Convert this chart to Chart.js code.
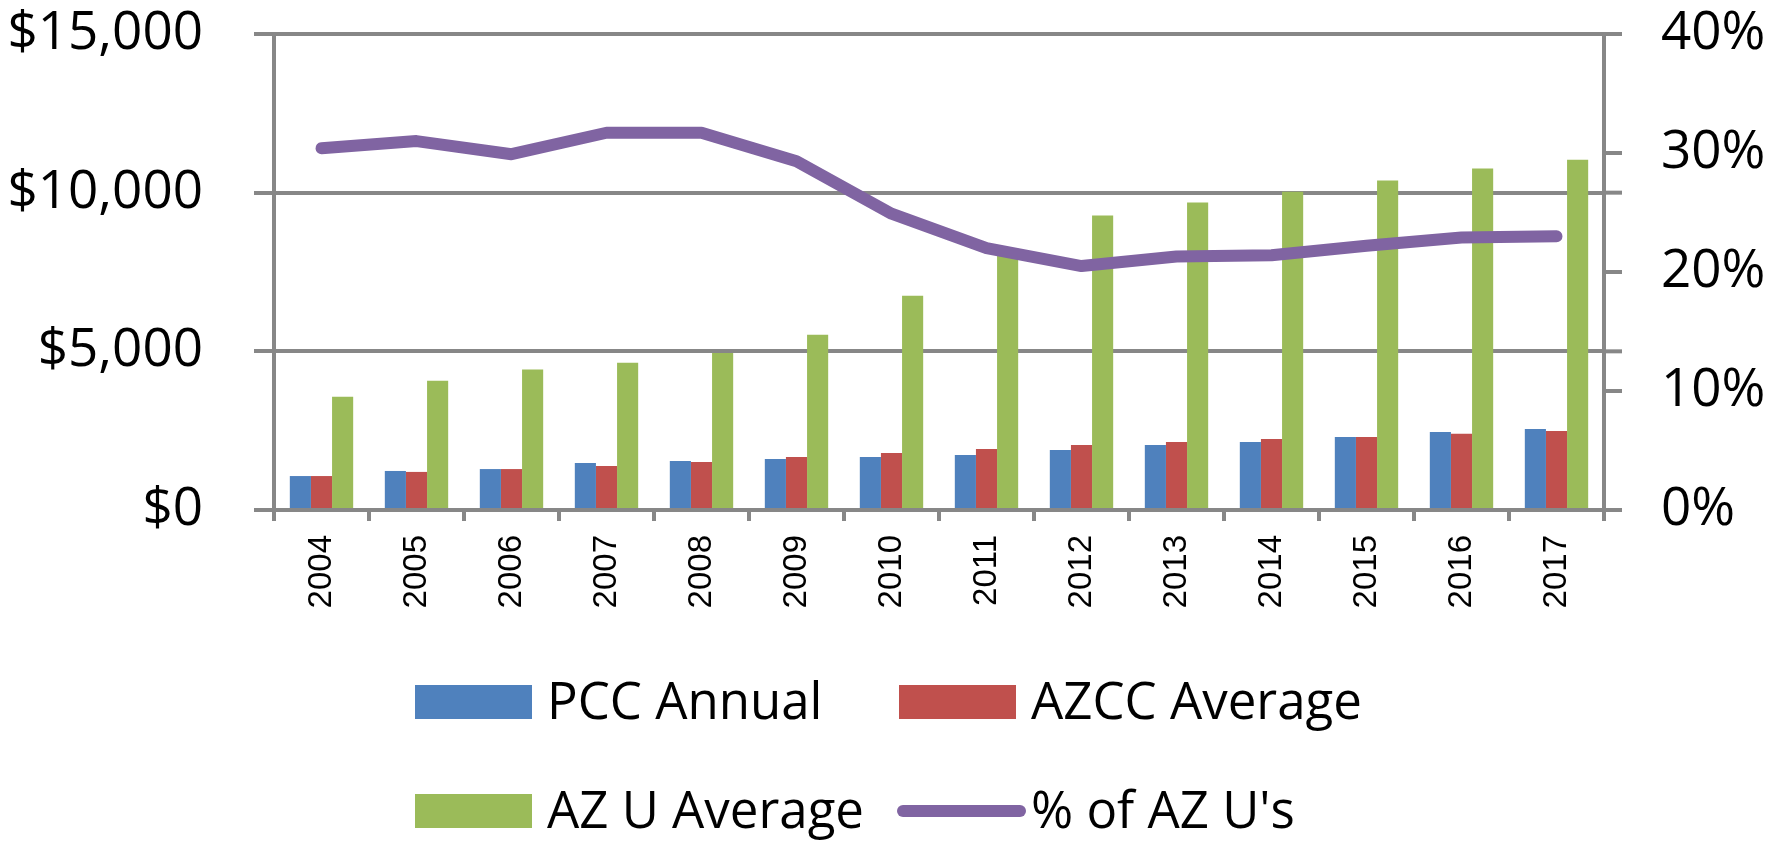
<!DOCTYPE html>
<html>
<head>
<meta charset="utf-8">
<script src="https://cdn.jsdelivr.net/npm/chart.js@4"></script>
<style>
  html, body { margin: 0; padding: 0; background: #fff; }
  #box { width: 1767px; height: 844px; }
</style>
</head>
<body>
<div id="box"><canvas id="myChart"></canvas></div>
<script>
const years = ["2004", "2005", "2006", "2007", "2008", "2009", "2010",
  "2011", "2012", "2013", "2014", "2015", "2016", "2017"];
const pccAnnual = [1070, 1230, 1290, 1480, 1545, 1610, 1670, 1735, 1890, 2050, 2145, 2300, 2460, 2555];
const azccAverage = [1070, 1200, 1290, 1390, 1515, 1670, 1800, 1925, 2050, 2145, 2240, 2300, 2400, 2490];
const azuAverage = [3570, 4070, 4430, 4640, 4950, 5520, 6750, 8250, 9280, 9690, 10030, 10380, 10760, 11040];
const pctOfAzu = [30.4, 31.0, 29.9, 31.7, 31.7, 29.3, 24.9, 22.0, 20.5, 21.3, 21.4, 22.2, 22.9, 23.0];

const dollarTicks = [0, 5000, 10000, 15000];
const pctTicks = [0, 10, 20, 30, 40];

const gridColor = "#878787";
const labelFont = "Open Sans";

// legend in two columns like the original, drawn under the axis
const legendPlugin = {
  id: "twoColLegend",
  afterDraw(chart) {
    const ctx = chart.ctx;
    const cols = [415, 899];
    const rows = [702, 811];
    ctx.save();
    ctx.font = `51px "${labelFont}"`;
    ctx.textBaseline = "alphabetic";
    chart.data.datasets.forEach((ds, i) => {
      const x = cols[i % 2];
      const y = rows[Math.floor(i / 2)];
      if (ds.type === "line") {
        ctx.strokeStyle = ds.borderColor;
        ctx.lineWidth = 12;
        ctx.lineCap = "round";
        ctx.beginPath();
        ctx.moveTo(x + 4, y);
        ctx.lineTo(x + 121, y);
        ctx.stroke();
      } else {
        ctx.fillStyle = ds.backgroundColor;
        ctx.fillRect(x, y - 17, 117, 34);
      }
      ctx.fillStyle = "#000";
      ctx.fillText(ds.label, x + 132, y + 17);
    });
    ctx.restore();
  },
};

// the primary gridlines run a little past the right axis
const gridStubs = {
  id: "gridStubs",
  beforeDatasetsDraw(chart) {
    const ctx = chart.ctx;
    const y = chart.scales.y;
    const right = chart.chartArea.right;
    ctx.save();
    ctx.strokeStyle = gridColor;
    ctx.lineWidth = 4;
    y.ticks.forEach((t) => {
      const py = y.getPixelForValue(t.value);
      ctx.beginPath();
      ctx.moveTo(right, py);
      ctx.lineTo(right + 18, py);
      ctx.stroke();
    });
    ctx.restore();
  },
};

function fixVertical(width) {
  return (scale) => {
    scale.width = width;
    scale.paddingTop = 0;
    scale.paddingBottom = 0;
  };
}

const data = {
  labels: years,
  datasets: [
    { label: "PCC Annual", data: pccAnnual, backgroundColor: "#4F81BD", order: 1, yAxisID: "y" },
    { label: "AZCC Average", data: azccAverage, backgroundColor: "#C0504D", order: 1, yAxisID: "y" },
    { label: "AZ U Average", data: azuAverage, backgroundColor: "#9BBB59", order: 1, yAxisID: "y" },
    {
      type: "line",
      label: "% of AZ U's",
      data: pctOfAzu,
      borderColor: "#8064A2",
      backgroundColor: "#8064A2",
      borderWidth: 12,
      borderCapStyle: "round",
      borderJoinStyle: "round",
      pointRadius: 0,
      tension: 0,
      order: 0,
      yAxisID: "y1",
    },
  ],
};

const config = {
  type: "bar",
  data,
  options: {
    responsive: true,
    maintainAspectRatio: false,
    animation: false,
    layout: { padding: { top: 34, left: 0, right: 0, bottom: 0 } },
    datasets: {
      bar: { categoryPercentage: 0.667, barPercentage: 1.0 },
    },
    plugins: {
      legend: { display: false },
      tooltip: { enabled: false },
    },
    scales: {
      x: {
        grid: {
          drawOnChartArea: false,
          color: gridColor,
          lineWidth: 4,
          tickLength: 11,
        },
        border: { display: true, color: gridColor, width: 4 },
        ticks: {
          minRotation: 90,
          maxRotation: 90,
          padding: 14,
          color: "#000",
          font: { family: "Liberation Sans", size: 33 },
        },
        afterFit: (scale) => {
          scale.height = 334;
          scale.paddingLeft = 0;
          scale.paddingRight = 0;
        },
      },
      y: {
        position: "left",
        min: 0,
        max: 15000,
        afterBuildTicks: (scale) => { scale.ticks = dollarTicks.map((v) => ({ value: v })); },
        grid: { color: gridColor, lineWidth: 4, tickLength: 20 },
        border: { display: true, color: gridColor, width: 4 },
        ticks: {
          padding: 51,
          color: "#000",
          font: { family: labelFont, size: 53 },
          callback: (v) => "$" + Number(v).toLocaleString("en-US"),
        },
        afterFit: fixVertical(274),
      },
      y1: {
        position: "right",
        min: 0,
        max: 40,
        afterBuildTicks: (scale) => { scale.ticks = pctTicks.map((v) => ({ value: v })); },
        grid: { drawOnChartArea: false, color: gridColor, lineWidth: 4, tickLength: 18 },
        border: { display: true, color: gridColor, width: 4 },
        ticks: {
          padding: 39,
          color: "#000",
          font: { family: labelFont, size: 53 },
          callback: (v) => v + "%",
        },
        afterFit: fixVertical(163),
      },
    },
  },
  plugins: [gridStubs, legendPlugin],
};

const myChart = new Chart(document.getElementById("myChart"), config);
</script>
</body>
</html>
